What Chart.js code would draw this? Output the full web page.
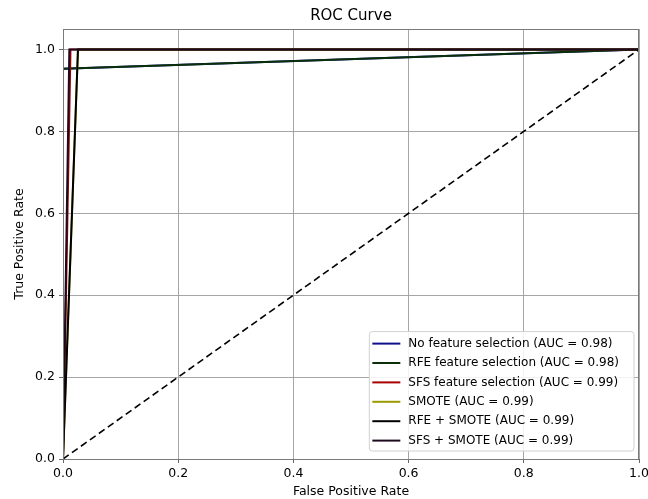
<!DOCTYPE html>
<html>
<head>
<meta charset="utf-8">
<title>ROC Curve</title>
<script src="https://cdn.jsdelivr.net/npm/chart.js@4"></script>
<style>
  html, body { margin: 0; padding: 0; background: #fff; }
  canvas { display: block; }
</style>
</head>
<body>
<canvas id="myChart" width="648" height="499"></canvas>
<script>
// curve data
var labels = [
    "No feature selection (AUC = 0.98)",
    "RFE feature selection (AUC = 0.98)",
    "SFS feature selection (AUC = 0.99)",
    "SMOTE (AUC = 0.99)",
    "RFE + SMOTE (AUC = 0.99)",
    "SFS + SMOTE (AUC = 0.99)"
];
var fprNoFS = [0, 0, 1];
var tprNoFS = [0, 0.953, 1];
var fprRFE = [0, 0, 1];
var tprRFE = [0, 0.953, 1];
var fprSFS = [0, 0.013, 1];
var tprSFS = [0, 1, 1];
var fprSMOTE = [0, 0.026, 1];
var tprSMOTE = [0, 1, 1];
var fprRfeSmote = [0, 0.026, 1];
var tprRfeSmote = [0, 1, 1];
var fprSfsSmote = [0, 0.011, 1];
var tprSfsSmote = [0, 1, 1];
var fprDiag = [0, 1];
var tprDiag = [0, 1];
var tickValues = [0, 0.2, 0.4, 0.6, 0.8, 1.0];

var colors = ["#10108a", "#0a300a", "#a80000", "#9a9a00", "#000000", "#1e0a1e"];
var fprs = [fprNoFS, fprRFE, fprSFS, fprSMOTE, fprRfeSmote, fprSfsSmote];
var tprs = [tprNoFS, tprRFE, tprSFS, tprSMOTE, tprRfeSmote, tprSfsSmote];

function pts(xs, ys) {
    return xs.map(function (x, i) { return { x: x, y: ys[i] }; });
}

var datasets = [];
for (var i = 0; i < labels.length; i++) {
    datasets.push({
        label: labels[i],
        data: pts(fprs[i], tprs[i]),
        borderColor: colors[i],
        borderWidth: 2,
        pointRadius: 0,
        order: 20 - i
    });
}
datasets.push({
    label: "",
    data: pts(fprDiag, tprDiag),
    borderColor: "#000",
    borderWidth: 1.6,
    borderDash: [7, 4],
    pointRadius: 0,
    order: 0
});

var FONT = "'DejaVu Sans', sans-serif";

// title, frame and matplotlib-style legend
var extras = {
    id: 'extras',
    afterDatasetsDraw: function (chart) {
        var ctx = chart.ctx;
        var a = chart.chartArea;
        ctx.save();
        ctx.strokeStyle = '#7a7a7a';
        ctx.lineWidth = 1;
        ctx.strokeRect(a.left + 0.5, a.top + 0.5, a.right - a.left - 1, a.bottom - a.top);

        ctx.fillStyle = '#000';
        ctx.font = '15px ' + FONT;
        ctx.textAlign = 'center';
        ctx.textBaseline = 'middle';
        ctx.fillText('ROC Curve', (a.left + a.right) / 2, 16);

        // legend
        ctx.font = '12px ' + FONT;
        var items = chart.data.datasets.filter(function (d) { return d.label; });
        var w = 0;
        items.forEach(function (d) { w = Math.max(w, ctx.measureText(d.label).width); });
        var rowH = 19.4;
        var boxW = w + 54, boxH = items.length * rowH + 3;
        var bx = a.right - 5 - boxW, by = a.bottom - 8 - boxH;
        ctx.beginPath();
        ctx.roundRect(bx, by, boxW, boxH, 3);
        ctx.fillStyle = 'rgba(255,255,255,0.85)';
        ctx.fill();
        ctx.strokeStyle = '#d0d0d0';
        ctx.stroke();
        ctx.textAlign = 'left';
        items.forEach(function (d, k) {
            var y = by + 12 + k * rowH;
            ctx.beginPath();
            ctx.moveTo(bx + 3, y);
            ctx.lineTo(bx + 31, y);
            ctx.strokeStyle = d.borderColor;
            ctx.lineWidth = 2;
            ctx.stroke();
            ctx.fillStyle = '#000';
            ctx.fillText(d.label, bx + 39, y);
        });
        ctx.restore();
    }
};

function fixTicks(scale) {
    scale.ticks = tickValues.map(function (v) { return { value: v }; });
}

new Chart(document.getElementById('myChart'), {
    type: 'line',
    data: { datasets: datasets },
    options: {
        responsive: false,
        animation: false,
        layout: { padding: { top: 29, right: 9, left: 0, bottom: 0 } },
        plugins: {
            legend: { display: false },
            tooltip: { enabled: false },
            title: { display: false }
        },
        elements: { line: { tension: 0 } },
        scales: {
            x: {
                type: 'linear',
                min: 0,
                max: 1,
                afterBuildTicks: fixTicks,
                afterFit: function (s) { s.height = 40; s.paddingRight = 0; },
                grid: { color: '#9c9c9c', lineWidth: 0.9, tickLength: 4, tickColor: '#555' },
                border: { display: false },
                ticks: {
                    color: '#000',
                    padding: 3,
                    font: { family: FONT, size: 12.5 },
                    callback: function (v) { return v.toFixed(1); }
                },
                title: {
                    display: true,
                    text: 'False Positive Rate',
                    color: '#000',
                    font: { family: FONT, size: 12.5 },
                    padding: { top: 0, bottom: 0 }
                }
            },
            y: {
                type: 'linear',
                min: 0,
                max: 1.05,
                afterBuildTicks: fixTicks,
                afterFit: function (s) { s.width = 63; },
                grid: { color: '#9c9c9c', lineWidth: 0.9, tickLength: 4, tickColor: '#555' },
                border: { display: false },
                ticks: {
                    color: '#000',
                    padding: 4,
                    font: { family: FONT, size: 12.5 },
                    callback: function (v) { return v.toFixed(1); }
                },
                title: {
                    display: true,
                    text: 'True Positive Rate',
                    color: '#000',
                    font: { family: FONT, size: 12.5 },
                    padding: { top: 12, bottom: 0 }
                }
            }
        }
    },
    plugins: [extras]
});
</script>
</body>
</html>
